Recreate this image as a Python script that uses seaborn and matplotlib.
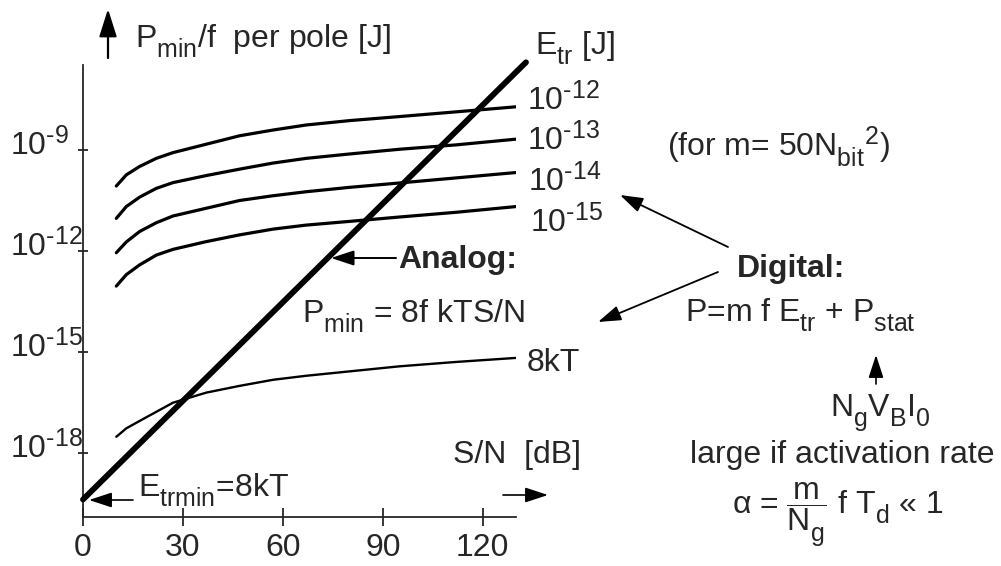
import numpy as np
import pandas as pd
import matplotlib
matplotlib.use("Agg")
import matplotlib.pyplot as plt
import matplotlib.transforms as mtransforms
import matplotlib._mathtext as mathtext_internals
import seaborn as sns

# ---- data -------------------------------------------------------------
# S/N sample points (dB) for the digital curves
snr_db = [10, 13, 17, 22, 27, 37, 47, 57, 67, 80, 95, 112, 130]

# log10 of P_min/f per pole [J] for the digital circuit, one list per E_tr
log_p_etr_1e12 = [-10.07, -9.74, -9.49, -9.25, -9.08, -8.83, -8.58, -8.41, -8.26, -8.13, -8.01, -7.87, -7.72]
log_p_etr_1e13 = [-11.03, -10.68, -10.40, -10.14, -9.97, -9.76, -9.57, -9.39, -9.25, -9.12, -8.98, -8.85, -8.68]
log_p_etr_1e14 = [-12.05, -11.73, -11.42, -11.16, -10.96, -10.73, -10.50, -10.36, -10.24, -10.11, -9.98, -9.83, -9.67]
log_p_etr_1e15 = [-13.04, -12.70, -12.41, -12.12, -11.95, -11.72, -11.52, -11.35, -11.23, -11.12, -10.99, -10.85, -10.68]
log_p_etr_8kt = [-17.51, -17.26, -17.04, -16.77, -16.50, -16.20, -16.00, -15.82, -15.70, -15.57, -15.42, -15.29, -15.17]

etr_names = ["1e-12", "1e-13", "1e-14", "1e-15", "8kT"]
etr_labels = [r"$10^{\text{-}12}$", r"$10^{\text{-}13}$", r"$10^{\text{-}14}$",
              r"$10^{\text{-}15}$", "8kT"]

# analog limit P_min/f = 8kT * S/N (straight line in log-dB)
analog_snr_db = [0, 133]
analog_log_p = [-19.37, -6.40]

x_ticks = [0, 30, 60, 90, 120]
y_tick_exps = [-18, -15, -12, -9]

# ---- long-form table --------------------------------------------------
digital = pd.DataFrame({
    "snr": np.tile(snr_db, 5),
    "p": 10.0 ** np.concatenate([log_p_etr_1e12, log_p_etr_1e13,
                                  log_p_etr_1e14, log_p_etr_1e15,
                                  log_p_etr_8kt]),
    "etr": np.repeat(etr_names, len(snr_db)),
})
analog = pd.DataFrame({"snr": analog_snr_db,
                       "p": 10.0 ** np.array(analog_log_p)})

# ---- style ------------------------------------------------------------
sns.set_style("ticks")
plt.rcParams["font.family"] = ["Liberation Sans", "DejaVu Sans"]
plt.rcParams["mathtext.fontset"] = "custom"
plt.rcParams["mathtext.rm"] = "Liberation Sans"
plt.rcParams["mathtext.it"] = "Liberation Sans"
plt.rcParams["mathtext.sf"] = "Liberation Sans"
plt.rcParams["mathtext.bf"] = "Liberation Sans:bold"
# larger, lower-set scripts as in typewritten formulas
mathtext_internals.SHRINK_FACTOR = 0.78
mathtext_internals.FontConstantsBase.sub1 = 0.6

W, H = 1001, 566
FS = 23
fig = plt.figure(figsize=(W / 100, H / 100), dpi=100)
fig.patch.set_facecolor("white")
ax = fig.add_axes([83 / W, (H - 517) / H, 433 / W, 452 / H])
ax.set_yscale("log")

for name in etr_names[:4]:
    sns.lineplot(data=digital[digital["etr"] == name], x="snr", y="p",
                 color="black", lw=2.3, estimator=None, ax=ax,
                 solid_capstyle="round", solid_joinstyle="round")
sns.lineplot(data=digital[digital["etr"] == "8kT"], x="snr", y="p",
             color="black", lw=1.7, estimator=None, ax=ax,
             solid_joinstyle="round")
sns.lineplot(data=analog, x="snr", y="p", color="black", lw=4.2,
             estimator=None, ax=ax, clip_on=False, zorder=5)

ax.set_xlim(0, 130)
ax.set_ylim(10 ** -19.89, 10 ** -6.48)
ax.set_xlabel("")
ax.set_ylabel("")
sns.despine(ax=ax)
for s in ("left", "bottom"):
    ax.spines[s].set_linewidth(1.3)

ax.set_xticks(x_ticks)
ax.set_xticklabels([str(t) for t in x_ticks])
ax.set_yticks([10.0 ** e for e in y_tick_exps])
ax.set_yticklabels([])
ax.yaxis.set_minor_locator(matplotlib.ticker.NullLocator())
ax.tick_params(axis="x", direction="inout", length=13, width=1.3,
               labelsize=FS, pad=5)
ax.tick_params(axis="y", direction="inout", length=7, width=1.3)

# y tick labels, left-aligned at the figure edge, baseline just below tick
ytrans = mtransforms.offset_copy(
    mtransforms.blended_transform_factory(fig.transFigure, ax.transData),
    fig=fig, x=0, y=-5, units="dots")
for e in y_tick_exps:
    ax.text(10 / W, 10.0 ** e, r"$10^{\text{-}%d}$" % -e, transform=ytrans,
            ha="left", va="baseline", fontsize=FS, clip_on=False)


def fxy(x, y):
    """pixel position (from top-left) -> figure fraction"""
    return (x / W, 1 - y / H)


def label(x, y, s, **kw):
    kw.setdefault("fontsize", FS)
    kw.setdefault("va", "baseline")
    fig.text(*fxy(x, y), s, ha="left", **kw)


def arrow(x0, y0, x1, y1, lw=1.2, hl=0.7, hw=0.23):
    ax.annotate("", xy=fxy(x1, y1), xytext=fxy(x0, y0),
                xycoords="figure fraction", textcoords="figure fraction",
                arrowprops=dict(arrowstyle=f"-|>,head_length={hl},head_width={hw}",
                                color="black", lw=lw, mutation_scale=20,
                                shrinkA=0, shrinkB=0),
                annotation_clip=False)


# axis captions
arrow(108, 58, 108, 9, lw=1.6, hl=0.85, hw=0.27)
label(135, 48, r"$P_{min}/f$  per pole [J]")
label(535, 55, r"$E_{tr}$ [J]")
label(453, 463, "S/N  [dB]")
arrow(503, 495, 548, 495, lw=1.2)

# curve labels
for (x, y), s in zip([(527, 110), (527, 150), (528, 191), (530, 232), (527, 371)],
                     etr_labels):
    label(x, y, s)

label(667, 156, r"(for m= 50$N_{bit}{}^{2}$)")

# analog annotation
label(398, 268, "Analog:", fontweight="bold")
arrow(396, 258, 331, 258, lw=1.4)
label(302, 323, r"$P_{min}$ = 8f kTS/N")
label(138, 497, r"$E_{trmin}$=8kT")
arrow(133, 500, 89, 500, lw=1.2)

# digital annotation
label(737, 277, "Digital:", fontweight="bold")
arrow(728, 247, 620, 195, lw=1.3)
arrow(718, 272, 598, 322, lw=1.3)
label(685, 322, r"P=m f $E_{tr}$ + $P_{stat}$")
arrow(876, 384, 876, 355, lw=1.2)
label(830, 416, r"$N_gV_BI_0$")
label(690, 463, "large if activation rate")
label(732, 513, r"$\alpha$ = $\dfrac{m}{N_g}$ f $T_d$ « 1")

fig.savefig("out.png", dpi=100, facecolor="white")
